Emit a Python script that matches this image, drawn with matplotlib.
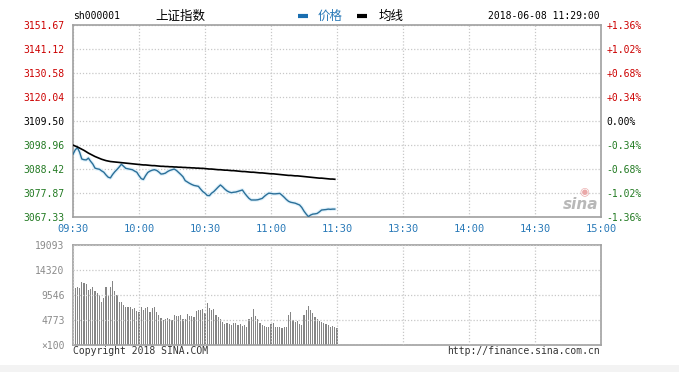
import matplotlib
matplotlib.use("Agg")
import matplotlib.pyplot as plt
from matplotlib.patches import Rectangle
from matplotlib.lines import Line2D

# ---------------- data ----------------
prev_close = 3109.50
price_ticks = [3067.33, 3077.87, 3088.42, 3098.96, 3109.50, 3120.04, 3130.58, 3141.12, 3151.67]
vol_ticks = [0, 4773, 9546, 14320, 19093]
vol_tick_labels = ["×100", "4773", "9546", "14320", "19093"]
time_ticks = [0, 30, 60, 90, 120, 150, 180, 210, 240]
time_labels = ["09:30", "10:00", "10:30", "11:00", "11:30", "13:30", "14:00", "14:30", "15:00"]

price = [
    3094.9, 3096.8, 3097.8, 3095.8, 3092.8, 3092.5, 3092.4, 3093.2, 3091.8, 3090.6,
    3088.8, 3088.5, 3088.3, 3087.6, 3087.0, 3085.8, 3084.8, 3084.5, 3086.0, 3087.2,
    3088.2, 3089.3, 3090.5, 3089.6, 3088.7, 3088.5, 3088.3, 3088.1, 3087.5, 3087.0,
    3085.5, 3084.2, 3083.8, 3085.5, 3086.9, 3087.5, 3087.9, 3088.1, 3087.8, 3087.1,
    3086.2, 3086.3, 3086.6, 3087.3, 3087.8, 3088.1, 3088.4, 3087.8, 3086.9, 3086.0,
    3085.0, 3083.3, 3082.7, 3082.1, 3081.6, 3081.2, 3081.0, 3080.8, 3079.6, 3078.5,
    3077.8, 3076.8, 3076.7, 3077.8, 3078.5, 3079.5, 3080.5, 3081.4, 3080.6, 3079.6,
    3078.8, 3078.3, 3078.0, 3078.2, 3078.3, 3078.6, 3078.9, 3079.2, 3077.8, 3076.6,
    3075.5, 3074.8, 3074.8, 3074.8, 3074.9, 3075.2, 3075.5, 3076.4, 3077.2, 3077.8,
    3077.7, 3077.5, 3077.5, 3077.6, 3077.7, 3076.9, 3076.0, 3075.0, 3074.2, 3073.8,
    3073.6, 3073.4, 3073.0, 3072.6, 3071.5, 3069.9, 3068.6, 3067.5, 3068.2, 3068.6,
    3068.7, 3068.9, 3069.6, 3070.4, 3070.5, 3070.6, 3070.8, 3070.7, 3070.8, 3070.8,
]

avg_price = [
    3098.9, 3098.5, 3098.1, 3097.6, 3097.1, 3096.6, 3096.0, 3095.4, 3094.9, 3094.4,
    3093.9, 3093.5, 3093.1, 3092.7, 3092.4, 3092.1, 3091.9, 3091.7, 3091.6, 3091.5,
    3091.4, 3091.3, 3091.2, 3091.1, 3091.0, 3090.9, 3090.8, 3090.7, 3090.6, 3090.5,
    3090.4, 3090.3, 3090.2, 3090.2, 3090.1, 3090.0, 3089.9, 3089.9, 3089.8, 3089.7,
    3089.6, 3089.6, 3089.5, 3089.5, 3089.4, 3089.4, 3089.3, 3089.3, 3089.2, 3089.2,
    3089.1, 3089.1, 3089.0, 3089.0, 3088.9, 3088.9, 3088.8, 3088.8, 3088.7, 3088.7,
    3088.6, 3088.5, 3088.4, 3088.4, 3088.3, 3088.2, 3088.1, 3088.1, 3088.0, 3087.9,
    3087.9, 3087.8, 3087.7, 3087.7, 3087.6, 3087.5, 3087.4, 3087.3, 3087.3, 3087.2,
    3087.1, 3087.0, 3087.0, 3086.9, 3086.8, 3086.7, 3086.7, 3086.6, 3086.5, 3086.4,
    3086.3, 3086.3, 3086.2, 3086.1, 3086.0, 3085.9, 3085.8, 3085.7, 3085.6, 3085.6,
    3085.5, 3085.4, 3085.4, 3085.3, 3085.2, 3085.1, 3085.0, 3084.9, 3084.8, 3084.7,
    3084.6, 3084.5, 3084.4, 3084.4, 3084.3, 3084.2, 3084.1, 3084.0, 3084.0, 3083.9,
]

volume = [
    10819, 11010, 10819, 11964, 11773, 11646, 10500, 10628, 11010, 10310,
    9864, 9546, 8273, 8910, 11010, 9546, 11010, 12219, 10310, 9546,
    8273, 8273, 7637, 7319, 7319, 7191, 6810, 7000, 6555, 6364,
    7319, 6682, 7000, 7191, 6364, 7000, 7191, 6364, 5728, 5091,
    4773, 4900, 5155, 4900, 4773, 5664, 5536, 5600, 5728, 5028,
    4900, 5918, 5536, 5600, 5410, 6555, 6682, 6682, 6810, 6046,
    8082, 7000, 6682, 6810, 5728, 5282, 4900, 4455, 4009, 4137,
    4009, 3818, 4264, 4264, 3818, 4009, 3627, 3818, 3500, 4900,
    5410, 6810, 5536, 4900, 4264, 3818, 3627, 3500, 3500, 4009,
    4137, 3500, 3373, 3500, 3182, 3373, 3373, 5728, 6364, 4773,
    4455, 4646, 4009, 3818, 5728, 6682, 7446, 6682, 6046, 5282,
    4900, 4646, 4455, 4264, 4009, 3818, 3500, 3627, 3373, 3246,
]

# ---------------- figure ----------------
W, H = 679, 372
fig = plt.figure(figsize=(W / 100, H / 100), dpi=100)
fig.patch.set_facecolor("white")

def fx(x):
    return x / W

def fy(y):
    return 1 - y / H

mono = "DejaVu Sans Mono"
cjk = ["Noto Sans CJK SC", "DejaVu Sans"]
red = "#cc0000"
green = "#227a22"
blue = "#2a7ab8"
spine_c = "#a0a0a0"
grid_c = "#c8c8c8"

# price axes
L, R = 73, 601
ax = fig.add_axes([fx(L), fy(217), (R - L) / W, (217 - 25) / H])
ax.set_xlim(0, 240)
ax.set_ylim(price_ticks[0], price_ticks[-1])
minutes = list(range(len(price)))
ax.plot(minutes, price, color="#dff1fb", lw=2.6, solid_capstyle="round", zorder=2)
ax.plot(minutes, price, color="#2b6f98", lw=1.0, zorder=3)
ax.plot(minutes, avg_price, color="black", lw=1.2, zorder=3)
ax.set_xticks(time_ticks)
ax.set_yticks(price_ticks)
ax.grid(True, color=grid_c, linestyle=(0, (1, 1.5)), lw=0.9)
ax.tick_params(length=0, labelsize=7, pad=6)
ax.set_xticklabels(time_labels, fontfamily=mono, color=blue, fontsize=7.5)
ax.set_yticklabels([f"{v:.2f}" for v in price_ticks], fontfamily=mono)
for lab, v in zip(ax.get_yticklabels(), price_ticks):
    lab.set_color(red if v > prev_close else (green if v < prev_close else "black"))
ax.tick_params(axis="x", pad=5)
for s in ax.spines.values():
    s.set_color(spine_c)
    s.set_linewidth(1.2)

ax2 = ax.twinx()
ax2.set_ylim(ax.get_ylim())
ax2.set_yticks(price_ticks)
pct = [(v - prev_close) / prev_close * 100 for v in price_ticks]
ax2.set_yticklabels([("+" if p > 0.001 else "") + f"{p:.2f}%" for p in pct], fontfamily=mono)
ax2.tick_params(length=0, labelsize=7, pad=4)
for lab, v in zip(ax2.get_yticklabels(), price_ticks):
    lab.set_color(red if v > prev_close else (green if v < prev_close else "black"))
for s in ax2.spines.values():
    s.set_visible(False)

# volume axes
axv = fig.add_axes([fx(L), fy(345), (R - L) / W, (345 - 245) / H])
axv.set_xlim(0, 240)
axv.set_ylim(0, vol_ticks[-1])
axv.bar([m + 1 for m in minutes], volume, width=0.55, color="#858585", zorder=2)
axv.set_xticks(time_ticks)
axv.set_yticks(vol_ticks)
axv.set_yticklabels(vol_tick_labels, fontfamily=mono, color="#8a8a8a")
axv.set_xticklabels([])
axv.grid(True, color=grid_c, linestyle=(0, (1, 1.5)), lw=0.9, zorder=3)
axv.set_axisbelow(False)
axv.tick_params(length=0, labelsize=7, pad=6)
for s in axv.spines.values():
    s.set_color(spine_c)
    s.set_linewidth(1.2)

# header
fig.text(fx(73), fy(16), "sh000001", fontfamily=mono, fontsize=7, va="center", ha="left")
fig.text(fx(155), fy(16), "上证指数", family=cjk, fontsize=9, va="center", ha="left")
fig.lines.append(Line2D([fx(298), fx(308)], [fy(16), fy(16)], transform=fig.transFigure,
                        color="#1a6eb0", lw=3, solid_capstyle="butt"))
fig.text(fx(318), fy(16), "价格", color=blue, family=cjk, fontsize=9, va="center", ha="left")
fig.lines.append(Line2D([fx(357), fx(367)], [fy(16), fy(16)], transform=fig.transFigure,
                        color="black", lw=3, solid_capstyle="butt"))
fig.text(fx(379), fy(16), "均线", color="black", family=cjk, fontsize=9, va="center", ha="left")
fig.text(fx(600), fy(16), "2018-06-08 11:29:00", fontfamily=mono, fontsize=7,
         va="center", ha="right")

# footer
fig.text(fx(73), fy(351), "Copyright 2018 SINA.COM", fontfamily=mono, fontsize=7,
         va="center", ha="left", color="#333333")
fig.text(fx(600), fy(351), "http://finance.sina.com.cn", fontfamily=mono, fontsize=7,
         va="center", ha="right", color="#333333")

# watermark
fig.text(fx(598), fy(205), "sina", fontsize=11, fontstyle="italic", fontweight="bold",
         color="#b8b8b8", va="center", ha="right", family=["DejaVu Sans"])
fig.text(fx(584), fy(192), "◉", fontsize=8, color="#eaa8a8", va="center", ha="center",
         family=["DejaVu Sans"])

# light band at bottom
fig.patches.append(Rectangle((0, 0), 1, 7 / H, transform=fig.transFigure,
                             facecolor="#f3f3f3", edgecolor="none"))

fig.savefig("out.png", dpi=100)
